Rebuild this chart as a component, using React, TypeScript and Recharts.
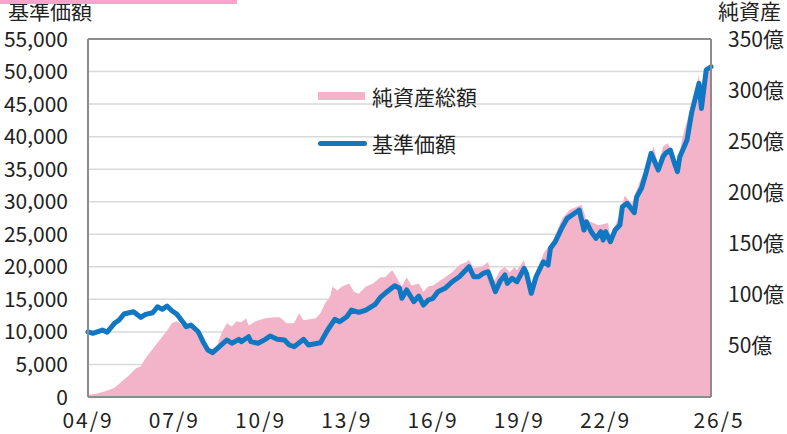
import React from 'react';
import {
  ComposedChart,
  Area,
  Line,
  XAxis,
  YAxis,
  CartesianGrid,
  ReferenceLine,
  Legend,
} from 'recharts';

// x positions: months elapsed since 2004/09
const navMonths = [
  0, 2, 6, 8, 11, 13, 15, 19, 22, 24, 27, 29, 31, 33, 35, 37, 40, 41, 43, 46,
  48, 50, 52, 54, 58, 60, 63, 64, 67, 68, 71, 74, 76, 79, 82, 84, 86, 90, 92, 97,
  100, 103, 105, 108, 110, 113, 116, 120, 122, 124, 128, 130, 131, 133, 136, 138, 140, 142, 144, 146,
  149, 152, 155, 157, 159, 161, 163, 165, 167, 170, 172, 174, 175, 177, 179, 182, 183, 185, 187, 190,
  192, 193, 195, 198, 200, 202, 204, 205, 207, 208, 210, 212, 214, 215, 216, 218, 220, 222, 223, 225,
  228, 229, 231, 233, 235, 238, 240, 241, 243, 245, 246, 247, 250, 252, 255, 256, 258, 260,
];
// 基準価額 (円)
const navValues = [
  10000, 9780, 10290, 9940, 11320, 11830, 12750, 13100, 12240, 12700, 12950, 13870, 13470, 13980, 13260, 12750, 11320, 10800, 11060, 10030,
  8500, 7220, 6810, 7480, 8760, 8250, 8860, 8500, 9260, 8500, 8250, 8860, 9370, 8860, 8760, 7990, 7730, 8860, 7990, 8340,
  10290, 11930, 11570, 12330, 13360, 13010, 13360, 14280, 15310, 15930, 17100, 16700, 15160, 16440, 14640, 15510, 14130, 14900, 15160, 16180,
  16700, 17710, 18480, 19250, 20010, 18480, 18480, 19000, 19250, 16180, 17800, 18740, 17460, 18230, 17710, 19760, 19000, 15930, 18480, 20780,
  20280, 22840, 23850, 26160, 27450, 27960, 28460, 28720, 25650, 26930, 25390, 24370, 25390, 24110, 25390, 23850, 25650, 26420, 29230, 29750,
  28310, 30770, 32060, 34610, 37430, 34870, 36920, 37430, 37940, 35640, 34610, 36920, 39480, 43820, 48180, 44330, 50230, 50740,
];

const assetMonths = [
  0, 3, 6, 9, 11, 14, 17, 20, 22, 24, 27, 30, 33, 35, 37, 39, 41, 43, 46, 48,
  50, 52, 54, 56, 58, 60, 62, 64, 66, 67, 70, 74, 78, 80, 83, 86, 88, 90, 95, 97,
  99, 101, 102, 104, 106, 109, 111, 113, 116, 119, 122, 124, 126, 127, 129, 131, 133, 135, 138, 140,
  142, 144, 147, 149, 152, 155, 158, 159, 161, 164, 167, 169, 172, 174, 176, 178, 179, 182, 185, 187,
  190, 194, 198, 201, 206, 208, 211, 213, 217, 218, 221, 224, 227, 230, 233, 236, 238, 240, 242, 246,
  248, 252, 255, 256, 258, 260,
];
// 純資産総額 (億円)
const assetValues = [
  2.5, 3, 5, 7, 9, 15, 21, 28, 30, 38, 47, 56, 65, 72, 74, 71, 68, 69, 63, 55,
  46, 44, 51, 64, 72, 69, 74, 73, 77, 70, 74, 77, 78, 78, 72, 72, 82, 75, 77, 82,
  92, 98, 108, 104, 108, 111, 103, 101, 108, 111, 117, 117, 122, 124, 116, 108, 117, 109, 111, 103,
  108, 109, 114, 117, 122, 129, 132, 134, 126, 127, 132, 111, 124, 127, 122, 127, 124, 134, 102, 118,
  140, 153, 175, 183, 188, 173, 170, 168, 170, 157, 173, 197, 189, 209, 225, 245, 227, 245, 248, 225,
  253, 287, 315, 281, 320, 324,
];

const xTickMonths = [0, 36, 72, 108, 144, 180, 216, 260];
const xTickLabels = ['04/9', '07/9', '10/9', '13/9', '16/9', '19/9', '22/9', '26/5'];
const leftTicks = [0, 5000, 10000, 15000, 20000, 25000, 30000, 35000, 40000, 45000, 50000, 55000];
const rightTicks = [50, 100, 150, 200, 250, 300, 350];

const seriesNames = { asset: '純資産総額', nav: '基準価額' };
const axisTitles = { left: '基準価額', right: '純資産' };

const FONT = "'Noto Sans CJK JP', 'Noto Sans', sans-serif";
const TEXT = '#222222';
const PINK = '#F3B4CA';
const BLUE = '#1077C3';
const FRAME = '#8C8C8C';
const GRID = '#D9D9D9';

// merge the two series on one month scale
const allMonths = Array.from(new Set([...navMonths, ...assetMonths])).sort((a, b) => a - b);
const chartData = allMonths.map((m) => {
  const ni = navMonths.indexOf(m);
  const ai = assetMonths.indexOf(m);
  return {
    month: m,
    nav: ni >= 0 ? navValues[ni] : null,
    asset: ai >= 0 ? assetValues[ai] : null,
  };
});

const LeftTick = (props: any) => {
  const { x, y, payload } = props;
  return (
    <text x={x} y={y} dy="0.36em" textAnchor="end" fill={TEXT} fontSize={21} fontFamily={FONT}>
      {Number(payload.value).toLocaleString('en-US')}
    </text>
  );
};

const RightTick = (props: any) => {
  const { x, y, payload } = props;
  return (
    <text x={x} y={y} dy="0.36em" textAnchor="start" fill={TEXT} fontSize={21} fontFamily={FONT}>
      {`${payload.value}億`}
    </text>
  );
};

const BottomTick = (props: any) => {
  const { x, y, payload } = props;
  const idx = xTickMonths.indexOf(payload.value);
  const isLast = idx === xTickMonths.length - 1;
  return (
    <text
      x={x + (isLast ? 8 : 0)}
      y={y}
      dy={15}
      textAnchor="middle"
      fill={TEXT}
      fontSize={21}
      letterSpacing={2}
      fontFamily={FONT}
    >
      {xTickLabels[idx]}
    </text>
  );
};

const renderLegend = () => (
  <div style={{ fontFamily: FONT, fontSize: 21, color: TEXT }}>
    <div style={{ display: 'flex', alignItems: 'center', height: 28, marginBottom: 19 }}>
      <span style={{ display: 'inline-block', width: 47, height: 8, background: PINK, marginRight: 7 }} />
      <span>{seriesNames.asset}</span>
    </div>
    <div style={{ display: 'flex', alignItems: 'center', height: 28 }}>
      <span
        style={{ display: 'inline-block', width: 49, height: 5, background: BLUE, borderRadius: 3, marginRight: 5 }}
      />
      <span>{seriesNames.nav}</span>
    </div>
  </div>
);

export default function App() {
  return (
    <div style={{ position: 'absolute', left: 0, top: 0, width: 787, height: 434, background: '#fff' }}>
      <ComposedChart width={787} height={434} data={chartData} margin={{ top: 39, right: 0, bottom: 0, left: 0 }}>
        <CartesianGrid yAxisId="left" vertical={false} stroke={GRID} strokeWidth={1.5} />
        <XAxis
          dataKey="month"
          type="number"
          domain={[0, 260]}
          ticks={xTickMonths}
          height={37}
          tickSize={0}
          tickMargin={16}
          axisLine={{ stroke: FRAME, strokeWidth: 2 }}
          tickLine={false}
          tick={<BottomTick />}
          interval={0}
        />
        <YAxis
          yAxisId="left"
          orientation="left"
          width={88}
          domain={[0, 55000]}
          ticks={leftTicks}
          tickSize={0}
          tickMargin={20}
          axisLine={{ stroke: FRAME, strokeWidth: 2 }}
          tickLine={false}
          tick={<LeftTick />}
          interval={0}
        />
        <YAxis
          yAxisId="right"
          orientation="right"
          width={76}
          domain={[0, 350]}
          ticks={rightTicks}
          tickSize={0}
          tickMargin={17}
          axisLine={{ stroke: FRAME, strokeWidth: 2 }}
          tickLine={false}
          tick={<RightTick />}
          interval={0}
        />
        <Area
          yAxisId="right"
          dataKey="asset"
          name={seriesNames.asset}
          type="linear"
          stroke="none"
          fill={PINK}
          fillOpacity={1}
          connectNulls
          isAnimationActive={false}
        />
        <Line
          yAxisId="left"
          dataKey="nav"
          name={seriesNames.nav}
          type="linear"
          stroke={BLUE}
          strokeWidth={5}
          strokeLinejoin="round"
          strokeLinecap="round"
          dot={false}
          activeDot={false}
          connectNulls
          isAnimationActive={false}
        />
        <ReferenceLine yAxisId="left" y={55000} stroke={FRAME} strokeWidth={2} />
        <Legend
          layout="vertical"
          align="center"
          verticalAlign="middle"
          content={renderLegend}
          wrapperStyle={{ position: 'absolute', left: 318, top: 82, width: 220 }}
        />
      </ComposedChart>
      <svg
        width={787}
        height={434}
        style={{ position: 'absolute', left: 0, top: 0, pointerEvents: 'none' }}
      >
        <text x={8} y={19} fill={TEXT} fontSize={21} fontFamily={FONT}>
          {axisTitles.left}
        </text>
        <text x={718} y={19} fill={TEXT} fontSize={21} fontFamily={FONT}>
          {axisTitles.right}
        </text>
        <rect x={0} y={0} width={237} height={4} fill="#F9A3CD" />
      </svg>
    </div>
  );
}
